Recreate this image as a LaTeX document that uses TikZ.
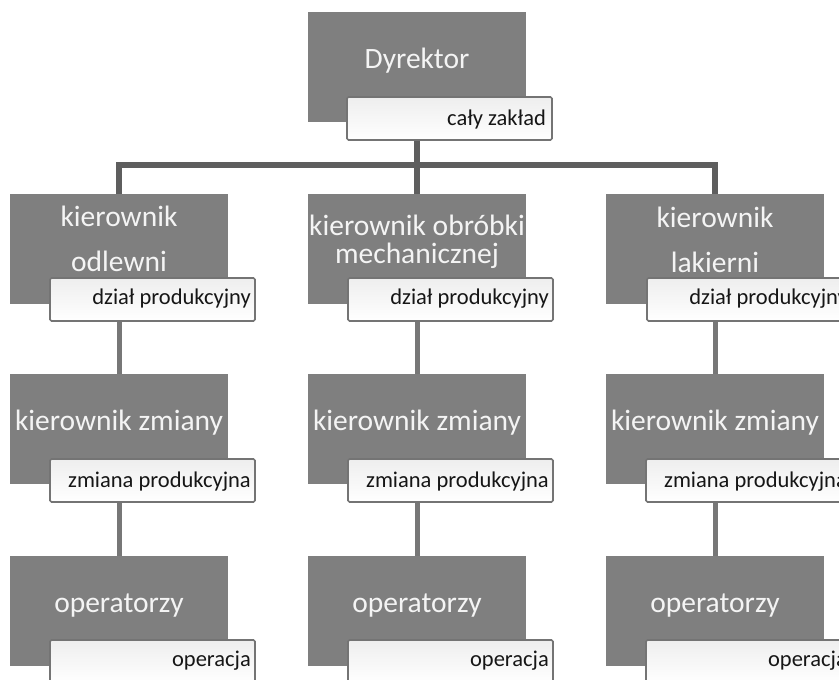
\documentclass[tikz,border=0pt]{standalone}
\usepackage{fontspec}
\setmainfont{Carlito}
\usetikzlibrary{backgrounds}
\definecolor{boxgray}{HTML}{7F7F7F}
\definecolor{busgray}{HTML}{5E5E5E}
\definecolor{linkgray}{HTML}{777777}
\definecolor{lblborder}{HTML}{747474}
\definecolor{lbltop}{HTML}{EEEEEE}
\definecolor{maintext}{HTML}{F4F4F4}
\definecolor{lbltext}{HTML}{161616}
\tikzset{
  gbox/.style={rectangle, fill=boxgray, draw=none, anchor=north west,
    minimum width=218pt, minimum height=110pt, inner sep=0pt, outer sep=0pt},
  lbox/.style={rectangle, draw=lblborder, line width=1.6pt, rounded corners=1.5pt,
    top color=lbltop, bottom color=white, anchor=north west,
    minimum width=205pt, minimum height=43pt, inner sep=0pt, outer sep=0pt},
  mtext/.style={font=\fontsize{29.5}{34}\selectfont, text=maintext, inner sep=0pt, anchor=base},
  ltext/.style={font=\fontsize{22.5}{26}\selectfont, text=lbltext, inner sep=0pt, anchor=base east},
  bus/.style={draw=busgray, line width=6pt, line join=miter},
  link/.style={draw=linkgray, line width=5pt}
}
\begin{document}
\begin{tikzpicture}[x=1pt,y=-1pt]
\useasboundingbox (0,0) rectangle (839,680);
% Level 1
\node[gbox] (dir) at (308,12) {};
\node[lbox] (dirl) at (347,97) {};
\node[mtext] (dirt) at (417,68) {Dyrektor};
\node[ltext] (dirlt) at (546,125) {cały zakład};
% Level 2
\node[gbox] (k1) at (10,194) {};
\node[gbox] (k2) at (308,194) {};
\node[gbox] (k3) at (606,194) {};
\node[lbox] (k1l) at (50,278) {};
\node[lbox] (k2l) at (348,278) {};
\node[lbox] (k3l) at (647,278) {};
\node[mtext] (k1a) at (119,226) {kierownik};
\node[mtext] (k1b) at (119,271) {odlewni};
\node[mtext] (k2a) at (417,235) {kierownik obróbki};
\node[mtext] (k2b) at (417,263) {mechanicznej};
\node[mtext] (k3a) at (715,227) {kierownik};
\node[mtext] (k3b) at (715,272) {lakierni};
\node[ltext] (k1t) at (251,304) {dział produkcyjny};
\node[ltext] (k2t) at (549,304) {dział produkcyjny};
\node[ltext] (k3t) at (848,304) {dział produkcyjny};
% Levels 3 and 4
\foreach \i/\lx in {1/10,2/308,3/606} {
  \node[gbox] (z\i) at (\lx,374) {};
  \node[lbox] (z\i l) at (\lx+40,459) {};
  \node[mtext] (z\i t) at (\lx+109,430) {kierownik zmiany};
  \node[ltext] (z\i lt) at (\lx+241,487) {zmiana produkcyjna};
  \node[gbox] (o\i) at (\lx,556) {};
  \node[lbox] (o\i l) at (\lx+40,640) {};
  \node[mtext] (o\i t) at (\lx+109,612) {operatorzy};
  \node[ltext] (o\i lt) at (\lx+241,666) {operacja};
}
% Connectors
\coordinate (bushub) at (417,165);
\begin{scope}[on background layer]
  \draw[bus] (dir.center) -- (bushub);
  \draw[bus] (k1.north) |- (bushub);
  \draw[bus] (k3.north) |- (bushub);
  \draw[bus] (k2.north) -- (bushub);
  \foreach \i in {1,2,3} {
    \draw[link] (k\i.center) -- (z\i.north);
    \draw[link] (z\i.center) -- (o\i.north);
  }
\end{scope}
\end{tikzpicture}
\end{document}
